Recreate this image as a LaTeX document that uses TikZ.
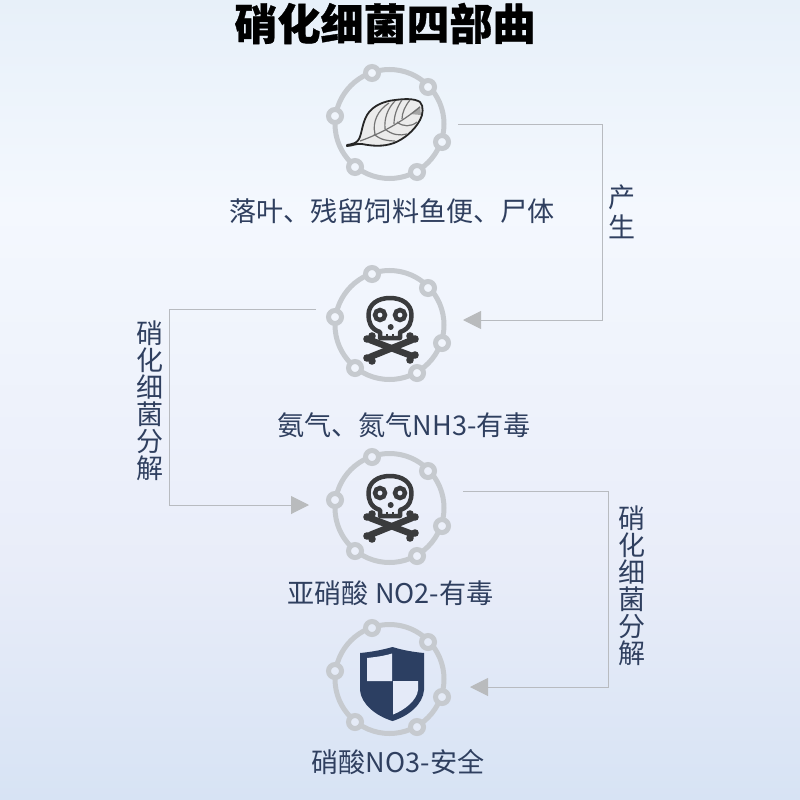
\documentclass[tikz,border=0pt]{standalone}
\usepackage{fontspec}
\setmainfont{Noto Sans CJK SC}
\newfontfamily\titlefont{Noto Sans CJK SC}[BoldFeatures={FakeBold=0.8}]
\usetikzlibrary{arrows.meta}
\definecolor{ringgray}{HTML}{C6CACF}
\definecolor{linkgray}{HTML}{B8BBC0}
\definecolor{tipgray}{HTML}{B9BBBD}
\definecolor{inknavy}{HTML}{2F3F5F}
\definecolor{shieldnavy}{HTML}{2C3F62}
\definecolor{skullgray}{HTML}{3A3B3D}
\definecolor{bgtop}{HTML}{E7F0F9}
\definecolor{bgmid}{HTML}{F4F8FE}
\definecolor{bglow}{HTML}{E9EDF9}
\definecolor{bgbot}{HTML}{D7E3F4}
\tikzset{
  ringbase/.style={circle,draw=ringgray,line width=5pt,minimum size=109pt,inner sep=0pt},
  ringdot/.style={circle,draw=ringgray,line width=5pt,minimum size=13pt,inner sep=0pt},
  caption/.style={text=inknavy,font=\fontsize{27.1}{30}\selectfont,inner sep=0pt},
  sidetext/.style={text=inknavy,font=\fontsize{27}{27}\selectfont,align=center,inner sep=0pt},
  link/.style={draw=linkgray,line width=1pt,-{Triangle[length=18pt,width=18pt,color=tipgray]}},
  bone/.style={draw=skullgray,line width=6.5pt,line cap=round},
  knob/.style={fill=skullgray},
  vein/.style={draw=black!55,line width=1.2pt},
  skullicon/.pic={
    \draw [skullgray,line width=4.5pt,line join=round] (-10,14) -- (-10,8) .. controls (-20,5) and (-21.5,-3) .. (-21.5,-9)
      .. controls (-21.5,-20) and (-12,-26) .. (0,-26) .. controls (12,-26) and (21.5,-20) .. (21.5,-9)
      .. controls (21.5,-3) and (20,5) .. (10,8) -- (10,14) -- cycle;
    \draw [skullgray,line width=4.5pt] (-10,-9) circle (5pt) (10,-9) circle (5pt);
    \fill [skullgray] (0.7,3) circle (3pt);
    \draw [skullgray,line width=1.6pt] (-3,10)--(-3,15) (3,10)--(3,15);
    \draw [bone] (-20,16)--(22,32);
    \draw [bone] (-20,33)--(22,16);
    \foreach \kx/\ky in {-23/15,-18/12,-23/34,-18/37,25/15,20/12,25/31,20/36} \fill [knob] (\kx,\ky) circle (3.8pt);
  },
}
\begin{document}
\begin{tikzpicture}[x=1pt,y=-1pt]
\useasboundingbox (0,0) rectangle (800,800);
\shade [top color=bgtop,bottom color=bgmid] (0,0) rectangle (800,210);
\shade [top color=bgmid,bottom color=bglow] (0,210) rectangle (800,560);
\shade [top color=bglow,bottom color=bgbot] (0,560) rectangle (800,800);

\node [inner sep=0pt,font=\titlefont\fontsize{43}{46}\selectfont\bfseries,text=black] (title) at (385,23.5) {硝化细菌四部曲};

% rings
\foreach \rname/\ry/\rfill in {leaf/124/F0F5FC,ammonia/325/F1F5FC,nitrite/508/ECF0FA,nitrate/679/E5EBF7} {
  \definecolor{dotfill}{HTML}{\rfill}
  \node [ringbase] (\rname) at (389.5,\ry) {};
  \foreach \dx/\dy [count=\dn] in {-17.5/-51,38.5/-37,-54.5/-8,52.5/18,-34.5/43,27.5/48}
    \node [ringdot,fill=dotfill] (\rname dot\dn) at ([shift={(\dx,\dy)}]\rname.center) {};
}

% leaf
\filldraw [fill=gray!16,draw=black!85,line width=1.8pt,line join=round] (347,145) .. controls (353,144) and (357,143) .. (359,139)
  .. controls (362,133) and (362,124) .. (367,115) .. controls (373,105) and (385,101) .. (395,100)
  .. controls (403,99) and (414,98) .. (420,102) .. controls (424,106) and (423,115) .. (420,120)
  .. controls (414,131) and (404,139) .. (394,143) .. controls (383,147) and (372,146) .. (362,144)
  .. controls (357,143) and (352,146) .. (347,146) -- cycle;
\fill [gray!70] (410,114) -- (420,106) -- (421,115) -- cycle;
\draw [vein] (360,141) .. controls (380,134) and (402,122) .. (420,107);
\draw [vein] (375,134) .. controls (372,122) and (378,110) .. (389,103);
\draw [vein] (385,129) .. controls (384,118) and (388,108) .. (395,101);
\draw [vein] (394,124) .. controls (394,116) and (397,107) .. (402,100);
\draw [vein] (402,119) .. controls (402,113) and (405,106) .. (410,100);
\draw [vein] (374,134) .. controls (380,140) and (388,141) .. (395,141);
\draw [vein] (385,129) .. controls (392,135) and (400,136) .. (407,134);
\draw [vein] (397,122) .. controls (403,127) and (411,127) .. (417,122);

% skulls
\pic at (390,324) {skullicon};
\pic at (390,502) {skullicon};

% shield
\fill [shieldnavy,line join=round] (392.5,647) .. controls (382,650) and (371,652) .. (360,653) -- (360,690)
  .. controls (361,704) and (376,716) .. (392.5,721) .. controls (409,716) and (423,704) .. (424,690) -- (424,653)
  .. controls (413,652) and (402,650) .. (392.5,647) -- cycle;
\fill [bglow!70!bgbot] (367,658) .. controls (376,657) and (384,656) .. (392,653.5) -- (392,681) -- (367,681) -- cycle;
\fill [bglow!70!bgbot] (393,681) -- (418,681) -- (418,690) .. controls (417,700) and (405,710) .. (393,714.5) -- cycle;

% captions
\node [caption] (leaftext) at (392,211) {落叶、残留饲料鱼便、尸体};
\node [caption] (ammoniatext) at (404,425) {氨气、氮气NH3-有毒};
\node [caption] (nitritetext) at (390.5,593) {亚硝酸 NO2-有毒};
\node [caption] (nitratetext) at (398,762) {硝酸NO3-安全};

% connectors
\coordinate (linkA) at (458,124);
\coordinate (linkAend) at (463,320);
\coordinate (linkB) at (316,309);
\coordinate (linkBend) at (309,505);
\coordinate (linkC) at (463,491);
\coordinate (linkCend) at (470,687);
\draw [link] (linkA) -- (602.5,124) -- (602.5,320) -- (linkAend);
\draw [link] (linkB) -- (169,309) -- (169,505) -- (linkBend);
\draw [link] (linkC) -- (608.5,491) -- (608.5,687) -- (linkCend);

\node [sidetext] (sideA) at (622,212) {产\\[3pt]生};
\node [sidetext] (sideB) at (150,401) {硝\\化\\细\\菌\\分\\解};
\node [sidetext] (sideC) at (632,586) {硝\\化\\细\\菌\\分\\解};
\end{tikzpicture}
\end{document}
